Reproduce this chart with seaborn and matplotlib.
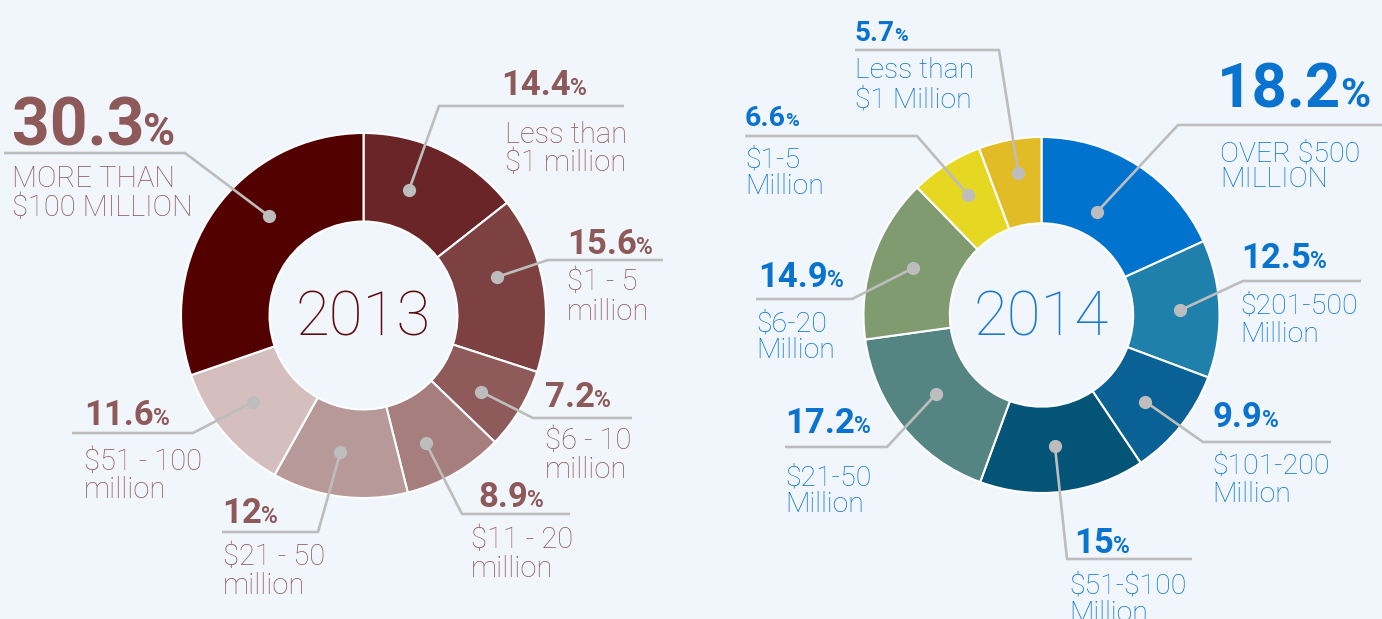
import numpy as np
import matplotlib
matplotlib.use("Agg")
import matplotlib.pyplot as plt
import seaborn as sns

W, H = 1382, 619
BG = "#F1F6FD"

# --- data: shares by company size, clockwise from 12 o'clock ---
pct_2013 = [14.4, 15.6, 7.2, 8.9, 12, 11.6, 30.3]
pct_text_2013 = ["14.4", "15.6", "7.2", "8.9", "12", "11.6", "30.3"]
labels_2013 = ["Less than\n$1 million", "$1 - 5\nmillion", "$6 - 10\nmillion",
               "$11 - 20\nmillion", "$21 - 50\nmillion", "$51 - 100\nmillion",
               "MORE THAN\n$100 MILLION"]
colors_2013 = ["#692527", "#7E4141", "#8F5A5A", "#A67E7D", "#B89999", "#D5BEBE", "#520000"]

pct_2014 = [18.2, 12.5, 9.9, 15, 17.2, 14.9, 6.6, 5.7]
pct_text_2014 = ["18.2", "12.5", "9.9", "15", "17.2", "14.9", "6.6", "5.7"]
labels_2014 = ["OVER $500\nMILLION", "$201-500\nMillion", "$101-200\nMillion",
               "$51-$100\nMillion", "$21-50\nMillion", "$6-20\nMillion",
               "$1-5\nMillion", "Less than\n$1 Million"]
colors_2014 = ["#0073CE", "#1E80AB", "#0A6196", "#045478", "#548582", "#7F9B6F", "#E6D822", "#E2BC27"]

# --- layout (pixel coords, y from top) ---
# num x, num baseline, label x, label baseline, line gap, elbow x, elbow y, line end x,
# number size, dot angle nudge, dot radius fraction
lay_2013 = [
    (501, 95, 505, 143, 28.5, 439, 106, 624, 25, -6, 0.73),
    (567, 254, 567, 290, 29.5, 548, 260, 663, 25, -6, 0.76),
    (545, 407, 545, 449, 28.5, 533, 418, 632, 25, 2, 0.77),
    (478, 507, 471, 548, 29, 462, 514, 570, 25, 4, 0.78),
    (222, 523, 223, 565, 28.5, 318, 532, 222, 25, 2, 0.76),
    (84, 425, 84, 470, 27.5, 193, 433, 72, 25, 2, 0.77),
    (12, 145, 12, 187, 29, 185, 153, 4, 47.5, 11, 0.75),
]
lay_2014 = [
    (1217, 107, 1220, 161, 26, 1178, 125, 1382, 44.5, -4.4, 0.66),
    (1241, 268, 1240, 313, 29, 1243, 281, 1361, 25, 0, 0.78),
    (1213, 427, 1212, 473, 29, 1203, 442, 1331, 25, 1.5, 0.76),
    (1074, 553, 1069, 593, 28, 1067, 559, 1192, 25, 1, 0.74),
    (785, 433, 785, 485, 27, 887, 447, 785, 25, 2, 0.74),
    (758, 287, 756, 332, 26.5, 852, 299, 756, 25, 1, 0.77),
    (745, 126, 745, 167, 26.5, 917, 136, 745, 20.5, 1, 0.79),
    (855, 41, 855, 78, 29, 999, 50, 855, 20, 1, 0.81),
]

sns.set_theme(style="white", rc={"figure.facecolor": BG, "axes.facecolor": BG})
plt.rcParams["font.family"] = ["Roboto", "DejaVu Sans"]

fig = plt.figure(figsize=(W / 100, H / 100), dpi=100)
ax = fig.add_axes([0, 0, 1, 1])

LINE = "#BDBDBD"


def donut(values, pct_text, labels, colors, lay, center, radius, year, year_color,
          text_color, label_size):
    cx, cy = center
    ax.pie(values, colors=colors, center=(cx, H - cy), radius=radius,
           startangle=90, counterclock=False,
           wedgeprops=dict(width=radius * 0.485, edgecolor="white", linewidth=1.5))
    ax.text(cx, H - 336, year, ha="center", va="baseline", fontsize=44.5,
            fontweight="light", color=year_color)

    total = sum(values)
    cum = np.concatenate([[0], np.cumsum(values)[:-1]])
    nums = []
    for i, v in enumerate(values):
        nx, ny, lx, ly, gap, ex, ey, endx, nsize, dang, rf = lay[i]
        theta = np.radians((cum[i] + v / 2) / total * 360 + dang)
        dx = cx + rf * radius * np.sin(theta)
        dy = cy - rf * radius * np.cos(theta)
        ax.plot([dx, ex, endx], [H - dy, H - ey, H - ey], color=LINE, lw=1.9,
                solid_capstyle="butt", zorder=5)
        ax.plot([dx], [H - dy], "o", color=LINE, ms=8.5, zorder=6)
        t = ax.text(nx, H - ny, pct_text[i], fontsize=nsize, fontweight="bold",
                    color=text_color, va="baseline", ha="left")
        nums.append((t, ny, nsize, text_color))
        for j, line in enumerate(labels[i].split("\n")):
            ax.text(lx, H - (ly + j * gap), line, fontsize=label_size, fontweight="light",
                    color=text_color, va="baseline", ha="left", parse_math=False)
    return nums


nums = donut(pct_2013, pct_text_2013, labels_2013, colors_2013, lay_2013,
             (363.5, 315.5), 182.5, "2013", "#5E0A0A", "#8E5959", 21)
nums += donut(pct_2014, pct_text_2014, labels_2014, colors_2014, lay_2014,
              (1041.5, 315), 178, "2014", "#1A78CC", "#0A73CF", 20.5)

ax.set_xlim(0, W)
ax.set_ylim(0, H)
ax.set_aspect("auto")
ax.axis("off")

# add the small "%" after each number
renderer = fig.canvas.get_renderer()
inv = ax.transData.inverted()
for t, ny, s, col in nums:
    bb = t.get_window_extent(renderer)
    x1 = inv.transform((bb.x1, bb.y0))[0]
    ax.text(x1 - 1, H - ny, "%", fontsize=s * 0.66, fontweight="bold",
            color=col, va="baseline", ha="left")

fig.savefig("out.png", dpi=100, facecolor=BG)
